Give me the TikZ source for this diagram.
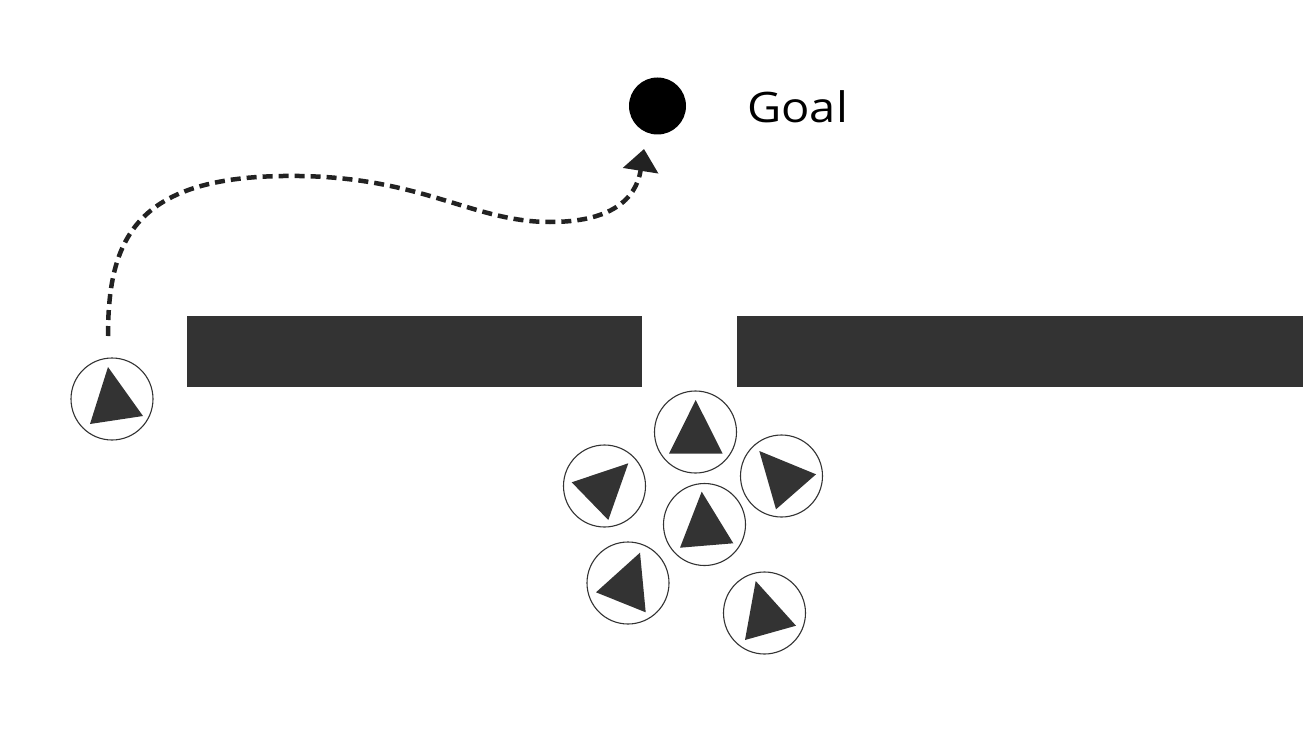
\documentclass[tikz,border=0pt]{standalone}
\usepackage{fontspec}
\setmainfont{Open Sans}
\usetikzlibrary{arrows.meta}
\definecolor{wallgray}{HTML}{333333}
\definecolor{pathblack}{HTML}{222222}
\tikzset{
  wall/.style={fill=wallgray, draw=none},
  robot/.style={circle, draw=wallgray, line width=1.1pt, fill=white, minimum size=82pt, inner sep=0pt},
  body/.style={fill=wallgray, draw=none},
  route/.style={draw=pathblack, line width=4.5pt, dash pattern=on 10pt off 6pt,
    -{Triangle[length=22pt,width=35pt]}},
}
\begin{document}
\begin{tikzpicture}[x=1pt,y=-1pt]
\useasboundingbox (0,0) rectangle (1303,733);
% walls
\path[wall] (187,316) rectangle (642,387);
\path[wall] (737,316) rectangle (1303,387);
% goal
\node[circle, fill=black, minimum size=57pt, inner sep=0pt] (goal) at (657.5,106) {};
\node[anchor=west, font=\fontsize{42}{50}\selectfont, inner sep=0pt] (goallabel) at (747,107) {\scalebox{1.12}[1.0]{Goal}};
% robots
\node[robot] (r0) at (112,399) {};
\node[robot] (rA) at (695.5,432) {};
\node[robot] (rB) at (604.5,486) {};
\node[robot] (rC) at (781.5,476) {};
\node[robot] (rD) at (704.5,524.5) {};
\node[robot] (rE) at (628,583) {};
\node[robot] (rF) at (764.5,613) {};
% robot bodies
\path[body] (108,367) -- (143,416) -- (90,424) -- cycle;
\path[body] (695.7,400) -- (722.7,453.7) -- (669,453.7) -- cycle;
\path[body] (628.3,463.3) -- (571.7,482.3) -- (608.3,520) -- cycle;
\path[body] (759.3,451) -- (816,474.3) -- (776,509.3) -- cycle;
\path[body] (701.7,491.7) -- (733.3,543.3) -- (680,547.7) -- cycle;
\path[body] (640,552.7) -- (645.7,612.3) -- (596,592.3) -- cycle;
\path[body] (755.7,581) -- (796,625.7) -- (745,640) -- cycle;
% route
\coordinate (start) at (108,336);
\coordinate (finish) at (644,149);
\draw[route] (start) .. controls (108,240) and (135,178) .. (283,176)
  .. controls (420,174) and (470,222) .. (550,222)
  .. controls (610,222) and (636,200) .. (finish);
\end{tikzpicture}
\end{document}
